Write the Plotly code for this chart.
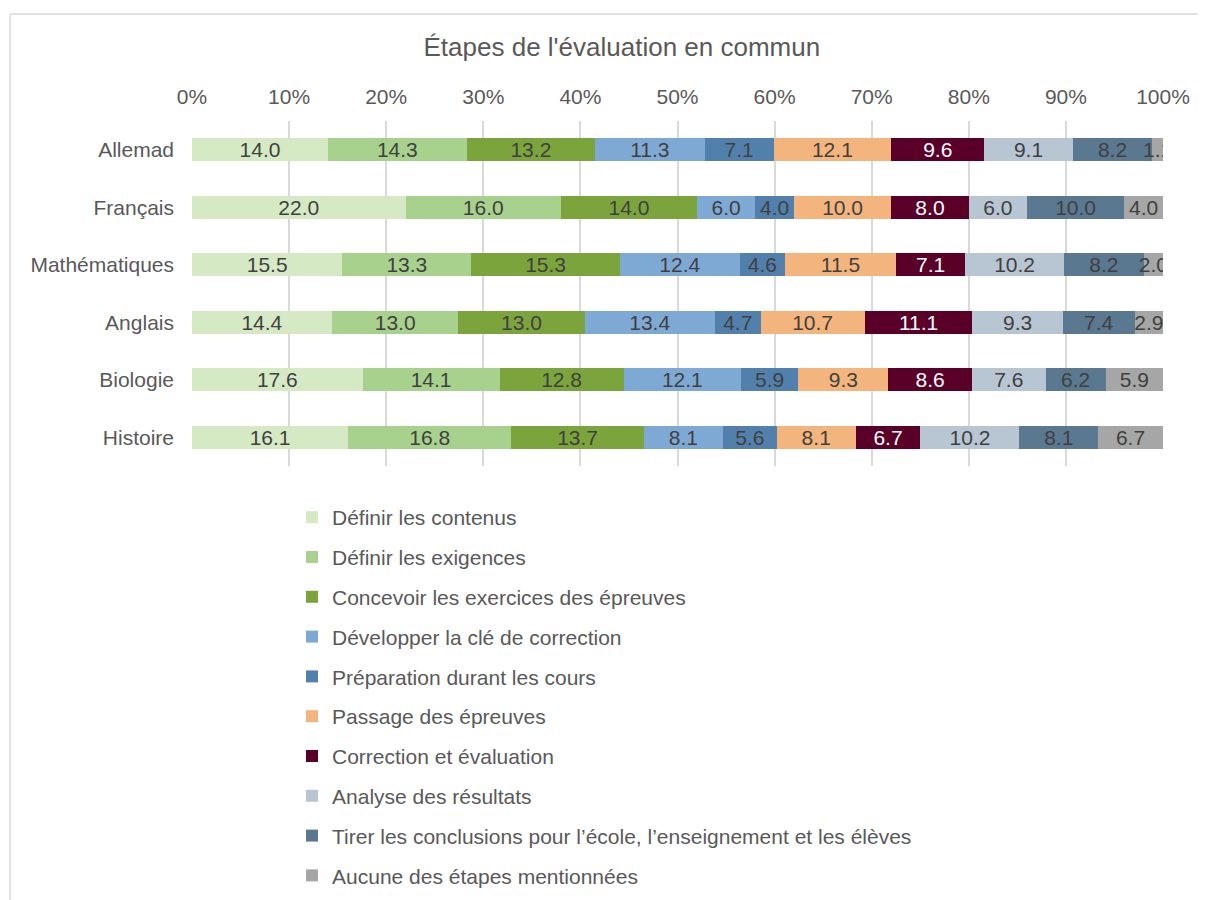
import plotly.graph_objects as go

subjects = ["Allemad", "Français", "Mathématiques", "Anglais", "Biologie", "Histoire"]

steps = [
    "Définir les contenus",
    "Définir les exigences",
    "Concevoir les exercices des épreuves",
    "Développer la clé de correction",
    "Préparation durant les cours",
    "Passage des épreuves",
    "Correction et évaluation",
    "Analyse des résultats",
    "Tirer les conclusions pour l’école, l’enseignement et les élèves",
    "Aucune des étapes mentionnées",
]

# one list per subject, in the order of steps
allemand = [14.0, 14.3, 13.2, 11.3, 7.1, 12.1, 9.6, 9.1, 8.2, 1.1]
francais = [22.0, 16.0, 14.0, 6.0, 4.0, 10.0, 8.0, 6.0, 10.0, 4.0]
maths = [15.5, 13.3, 15.3, 12.4, 4.6, 11.5, 7.1, 10.2, 8.2, 2.0]
anglais = [14.4, 13.0, 13.0, 13.4, 4.7, 10.7, 11.1, 9.3, 7.4, 2.9]
biologie = [17.6, 14.1, 12.8, 12.1, 5.9, 9.3, 8.6, 7.6, 6.2, 5.9]
histoire = [16.1, 16.8, 13.7, 8.1, 5.6, 8.1, 6.7, 10.2, 8.1, 6.7]

tick_vals = [0, 10, 20, 30, 40, 50, 60, 70, 80, 90, 100]
tick_text = [f"{v}%" for v in tick_vals]

colors = ["#D5EAC4", "#A9D18E", "#7BA53C", "#7FA9D5", "#5280AC",
          "#F3B47D", "#5A0028", "#B7C6D2", "#5A7890", "#A6A6A6"]
text_colors = ["#404040"] * 6 + ["#FFFFFF"] + ["#404040"] * 3

rows = [allemand, francais, maths, anglais, biologie, histoire]
FONT = "Liberation Sans, Arial, sans-serif"
FS = 21

fig = go.Figure()
for i, step in enumerate(steps):
    vals = [r[i] for r in rows]
    fig.add_trace(go.Bar(
        y=subjects,
        x=vals,
        name=step,
        orientation="h",
        marker=dict(color=colors[i], line=dict(width=0)),
        text=[f"{v:.1f}" for v in vals],
        textposition="inside",
        insidetextanchor="middle",
        textangle=0,
        textfont=dict(color=text_colors[i], size=FS, family=FONT),
        legendgroup=str(i),
    ))

# the page adds an 8px body margin, so margins are shifted to compensate
fig.update_layout(
    barmode="stack",
    barnorm="percent",
    bargap=0.6,
    width=1206,
    height=900,
    margin=dict(l=184, r=51, t=113, b=439),
    paper_bgcolor="white",
    plot_bgcolor="white",
    font=dict(family=FONT, color="#595959", size=FS),
    uniformtext=dict(minsize=FS, mode="show"),
    title=dict(
        text="Étapes de l'évaluation en commun",
        x=0.509, xref="container", xanchor="center",
        y=0.957, yref="container", yanchor="middle",
        font=dict(size=26, color="#595959", family=FONT),
    ),
    xaxis=dict(
        side="top",
        range=[0, 100],
        tickvals=tick_vals,
        ticktext=tick_text,
        showgrid=True,
        gridcolor="#D9D9D9",
        gridwidth=2,
        zeroline=False,
        showline=False,
        ticklabelstandoff=12,
        tickfont=dict(size=FS, color="#595959"),
        fixedrange=True,
    ),
    yaxis=dict(
        autorange="reversed",
        showgrid=False,
        showline=False,
        ticklabelstandoff=17,
        tickfont=dict(size=FS, color="#595959"),
    ),
    showlegend=True,
    legend=dict(
        x=0.103, xanchor="left",
        y=-0.09, yanchor="top",
        orientation="v",
        traceorder="grouped",
        tracegroupgap=9.5,
        font=dict(size=FS, color="#595959", family=FONT),
        itemwidth=30,
        bgcolor="rgba(0,0,0,0)",
    ),
)

# light chart-area border (top and left edges visible in the reference)
fig.add_shape(type="line", xref="paper", yref="paper",
              x0=-0.1874, x1=1.1, y0=1.31, y1=1.31,
              line=dict(color="#D9D9D9", width=1.5))
fig.add_shape(type="line", xref="paper", yref="paper",
              x0=-0.1874, x1=-0.1874, y0=1.31, y1=-1.3,
              line=dict(color="#D9D9D9", width=1.5))

fig.write_html("out.html")
